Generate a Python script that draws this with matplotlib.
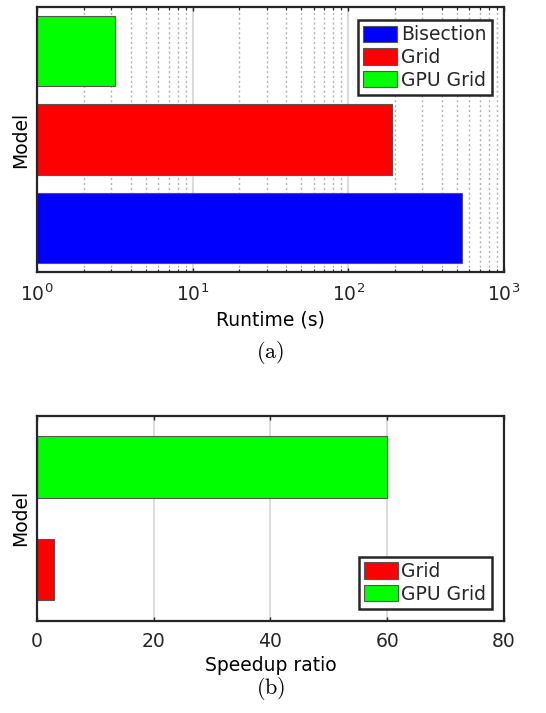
import numpy as np
import matplotlib
matplotlib.use('Agg')
import matplotlib.pyplot as plt
from matplotlib.ticker import LogLocator, MultipleLocator

# runtime data, panel (a)
runtime_models = ['Bisection', 'Grid', 'GPU Grid']
runtime_s = [542, 190, 3.18]
runtime_colors = ['#0000ff', '#ff0000', '#00ff00']

# speedup data, panel (b)
speedup_models = ['Grid', 'GPU Grid']
speedup_ratio = [2.9, 60.0]
speedup_colors = ['#ff0000', '#00ff00']

fsize = 13.5
edge = '#262626'
plt.rcParams['font.family'] = 'DejaVu Sans'
plt.rcParams['mathtext.default'] = 'regular'
plt.rcParams['font.size'] = fsize
plt.rcParams['xtick.direction'] = 'in'
plt.rcParams['ytick.direction'] = 'in'
plt.rcParams['text.color'] = edge
plt.rcParams['xtick.color'] = edge
plt.rcParams['xtick.labelcolor'] = edge

fig = plt.figure(figsize=(5.46, 7.13), dpi=100)


def style_axes(ax):
    for s in ax.spines.values():
        s.set_color(edge)
        s.set_linewidth(1.6)
    ax.set_yticks([])
    ax.tick_params(axis='x', which='both', top=True, bottom=True, labelsize=fsize, pad=8)
    ax.tick_params(axis='x', which='major', length=3, width=1.0)
    ax.tick_params(axis='x', which='minor', length=2, width=0.8)
    ax.set_ylabel('Model', fontsize=fsize, labelpad=5)
    ax.set_axisbelow(True)


def add_legend(ax, loc, bbox):
    leg = ax.legend(loc=loc, bbox_to_anchor=bbox, fancybox=False, framealpha=1,
                    edgecolor=edge, fontsize=fsize, handlelength=1.8, handleheight=0.95,
                    handletextpad=0.2, borderpad=0.28, labelspacing=0.2, borderaxespad=0.0)
    leg.get_frame().set_linewidth(1.8)


# (a) runtime, log scale
ax1 = fig.add_axes([0.0678, 0.6185, 0.855, 0.3717])
y1 = np.arange(1, len(runtime_models) + 1)
for yy, val, c, lab in zip(y1, runtime_s, runtime_colors, runtime_models):
    ax1.barh(yy, val, height=0.8, left=0, color=c, edgecolor='#555555', linewidth=0.8, label=lab)
ax1.set_xscale('log')
ax1.set_xlim(1, 1000)
ax1.set_ylim(0.5, 3.5)
ax1.xaxis.set_major_locator(LogLocator(base=10, numticks=10))
ax1.xaxis.set_minor_locator(LogLocator(base=10, subs=np.arange(2, 10), numticks=30))
ax1.grid(True, which='major', axis='x', color='#dcdcdc', linewidth=1.5, linestyle='-')
ax1.grid(True, which='minor', axis='x', color='#b4b4b4', linewidth=1.0, linestyle=(0, (1.5, 2)))
style_axes(ax1)
ax1.set_xlabel('Runtime (s)', fontsize=fsize, labelpad=4)
add_legend(ax1, 'upper right', (0.974, 0.951))
fig.text(0.495, 0.505, r'$\mathrm{(a)}$', ha='center', va='center', fontsize=16,
         math_fontfamily='cm', color='black')

# (b) speedup, linear scale
ax2 = fig.add_axes([0.0678, 0.1295, 0.855, 0.2875])
y2 = np.arange(1, len(speedup_models) + 1)
for yy, val, c, lab in zip(y2, speedup_ratio, speedup_colors, speedup_models):
    ax2.barh(yy, val, height=0.6, left=0, color=c, edgecolor='#555555', linewidth=0.8, label=lab)
ax2.set_xlim(0, 80)
ax2.set_ylim(0.5, 2.5)
ax2.xaxis.set_major_locator(MultipleLocator(20))
ax2.grid(True, which='major', axis='x', color='#dcdcdc', linewidth=1.5, linestyle='-')
style_axes(ax2)
ax2.set_xlabel('Speedup ratio', fontsize=fsize, labelpad=4)
add_legend(ax2, 'lower right', (0.974, 0.057))
fig.text(0.495, 0.035, r'$\mathrm{(b)}$', ha='center', va='center', fontsize=16,
         math_fontfamily='cm', color='black')

fig.savefig('out.png', dpi=100)
